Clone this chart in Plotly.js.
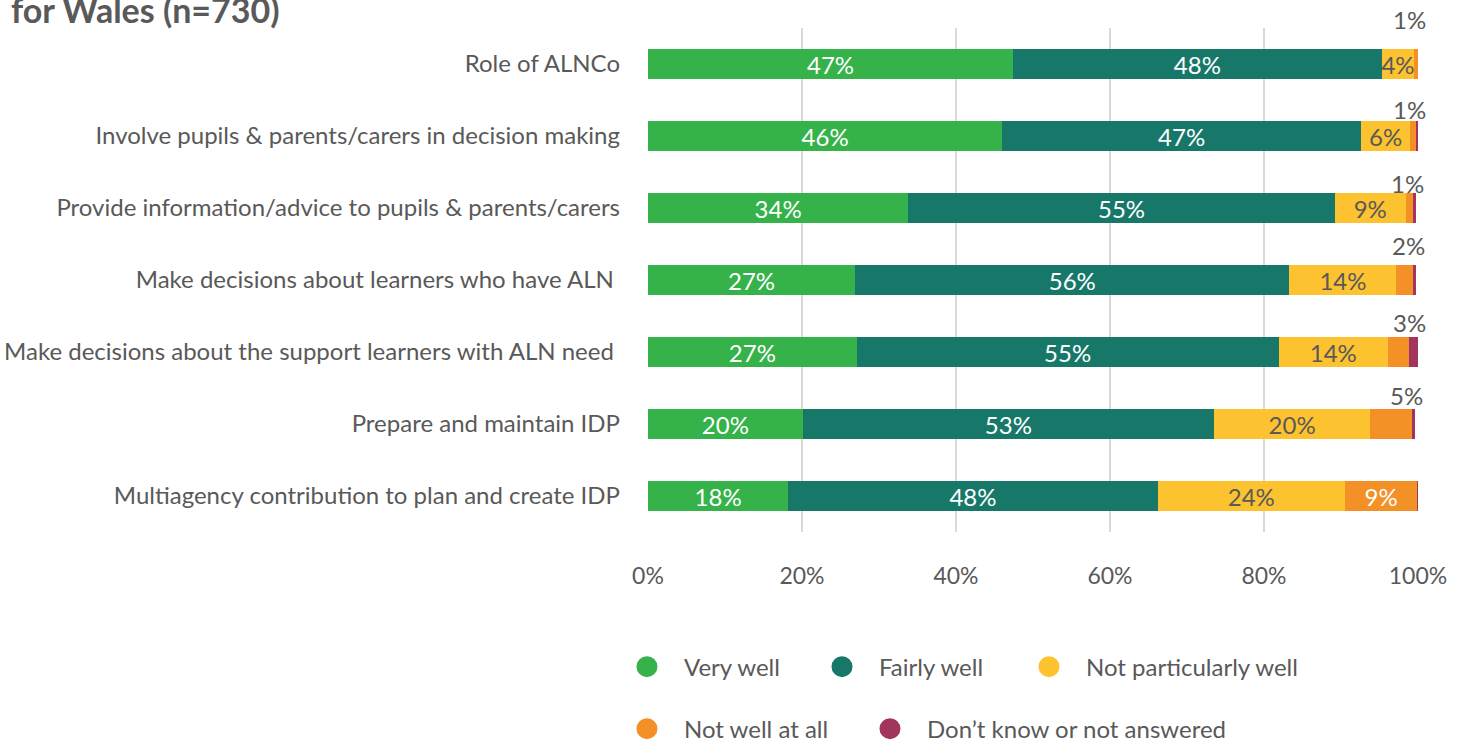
<!DOCTYPE html>
<html>
<head>
<meta charset="utf-8">
<script src="https://cdn.plot.ly/plotly-3.0.1.min.js"></script>
<style>
  html, body { margin: 0; padding: 0; background: #fff; }
  #chart { width: 1463px; height: 747px; }
</style>
</head>
<body>
<div id="chart"></div>
<script>
// ---------- data ----------
var categories = [
    'Role of ALNCo',
    'Involve pupils & parents/carers in decision making',
    'Provide information/advice to pupils & parents/carers',
    'Make decisions about learners who have ALN\u00a0',
    'Make decisions about the support learners with ALN need\u00a0',
    'Prepare and maintain IDP',
    'Multiagency contribution to plan and create IDP'
];
var veryWell      = [47.4, 46.0, 33.8, 26.9, 27.1, 20.1, 18.2];
var fairlyWell    = [47.9, 46.6, 55.4, 56.4, 54.8, 53.4, 48.0];
var notParticular = [4.2, 6.4, 9.2, 13.9, 14.2, 20.3, 24.3];
var notWellAtAll  = [0.5, 0.7, 0.9, 2.2, 2.7, 5.4, 9.4];
var dontKnow      = [0.0, 0.3, 0.4, 0.4, 1.2, 0.4, 0.2];
var seriesNames = ['Very well', 'Fairly well', 'Not particularly well', 'Not well at all', 'Don\u2019t know or not answered'];
var xTicks = [0, 20, 40, 60, 80, 100];

var COLORS = {
    veryWell: '#35b24a',
    fairlyWell: '#17786a',
    notParticular: '#fdc22f',
    notWellAtAll: '#f39026',
    dontKnow: '#a1355e',
    text: '#595959',
    grid: '#d9d9d9'
};
var FONT = 'Source Sans Pro, Lato, sans-serif';
var FS = 24;

// lift (px) of the small outside labels above each bar
var outsideLift = [45, 27, 25, 35, 30, 29, 0];

function pct(v) { return Math.round(v) + '%'; }

function insideLabels(vals, minVal) {
    return vals.map(v => (v >= minVal ? pct(v) : ''));
}

function barTrace(name, vals, color, textColor, minVal) {
    return {
        type: 'bar',
        orientation: 'h',
        name: name,
        x: vals,
        y: categories,
        marker: { color: color, line: { width: 0 } },
        text: insideLabels(vals, minVal),
        textposition: 'inside',
        insidetextanchor: 'middle',
        textangle: 0,
        constraintext: 'none',
        textfont: { family: FONT, size: FS, color: textColor },
        hoverinfo: 'skip',
        showlegend: false
    };
}

function legendTrace(name, color, legendId) {
    return {
        type: 'scatter',
        mode: 'markers',
        name: name,
        x: [null],
        y: [null],
        marker: { color: color, size: 16, symbol: 'circle', line: { color: color, width: 5 } },
        legend: legendId,
        hoverinfo: 'skip'
    };
}

var data = [
    barTrace(seriesNames[0], veryWell, COLORS.veryWell, '#ffffff', 4),
    barTrace(seriesNames[1], fairlyWell, COLORS.fairlyWell, '#ffffff', 4),
    barTrace(seriesNames[2], notParticular, COLORS.notParticular, COLORS.text, 4),
    barTrace(seriesNames[3], notWellAtAll, COLORS.notWellAtAll, '#ffffff', 8),
    barTrace(seriesNames[4], dontKnow, COLORS.dontKnow, '#ffffff', 101),
    legendTrace(seriesNames[0], COLORS.veryWell, 'legend'),
    legendTrace(seriesNames[1], COLORS.fairlyWell, 'legend2'),
    legendTrace(seriesNames[2], COLORS.notParticular, 'legend3'),
    legendTrace(seriesNames[3], COLORS.notWellAtAll, 'legend4'),
    legendTrace(seriesNames[4], COLORS.dontKnow, 'legend5')
];

// small "Not well at all" values shown above the bar end
var annotations = [];
categories.forEach(function (c, i) {
    if (notWellAtAll[i] >= 8) return;
    var total = veryWell[i] + fairlyWell[i] + notParticular[i] + notWellAtAll[i] + dontKnow[i];
    annotations.push({
        x: Math.min(total, 99.9), y: c, xref: 'x', yref: 'y',
        text: pct(notWellAtAll[i]),
        showarrow: false,
        xanchor: 'center', yanchor: 'middle',
        xshift: -8, yshift: outsideLift[i],
        font: { family: FONT, size: FS, color: COLORS.text }
    });
});
annotations.push({
    xref: 'paper', yref: 'paper', x: -0.83, y: 1, xanchor: 'left', yanchor: 'bottom', yshift: -4,
    text: '<b>for Wales (n=730)</b>', showarrow: false,
    font: { family: FONT, size: 34, color: COLORS.text }
});

function legendBox(x, y) {
    return {
        orientation: 'h',
        x: x, y: y, xanchor: 'left', yanchor: 'middle',
        itemsizing: 'trace',
        itemwidth: 64,
        bgcolor: 'rgba(0,0,0,0)',
        font: { family: FONT, size: FS, color: COLORS.text }
    };
}

var layout = {
    width: 1463,
    height: 747,
    margin: { l: 648, r: 45, t: 28, b: 215, autoexpand: false },
    paper_bgcolor: '#ffffff',
    plot_bgcolor: '#ffffff',
    barmode: 'stack',
    bargap: 0.58,
    font: { family: FONT, size: FS, color: COLORS.text },
    xaxis: {
        range: [0, 100],
        tickvals: xTicks,
        ticktext: xTicks.map(v => v + '%'),
        showgrid: true,
        gridcolor: COLORS.grid,
        gridwidth: 2,
        zeroline: false,
        showline: false,
        ticks: '',
        ticklabelstandoff: 28,
        tickfont: { family: FONT, size: 23, color: COLORS.text },
        fixedrange: true
    },
    yaxis: {
        autorange: 'reversed',
        showgrid: false,
        zeroline: false,
        showline: false,
        ticks: '',
        ticklabelstandoff: 27,
        tickfont: { family: FONT, size: FS, color: COLORS.text },
        fixedrange: true
    },
    legend: legendBox(-0.0494, -0.268),
    legend2: legendBox(0.2039, -0.268),
    legend3: legendBox(0.4727, -0.268),
    legend4: legendBox(-0.0494, -0.391),
    legend5: legendBox(0.2662, -0.391),
    annotations: annotations,
    showlegend: true,
    hovermode: false
};

Plotly.newPlot('chart', data, layout, { displayModeBar: false, staticPlot: true });
</script>
</body>
</html>
